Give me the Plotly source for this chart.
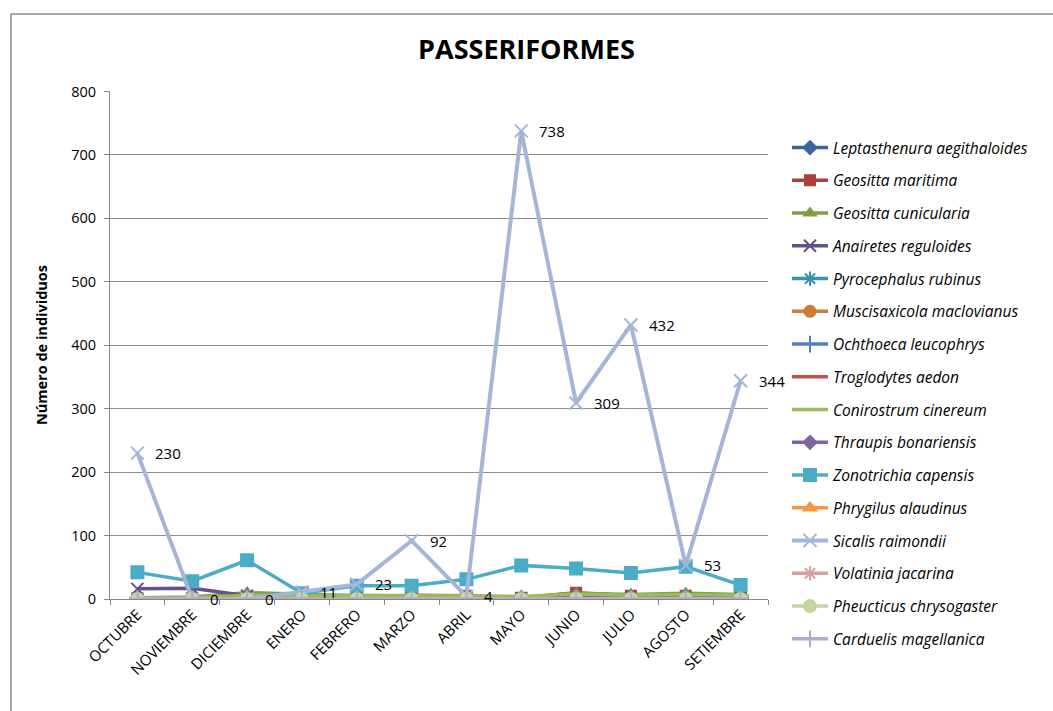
import plotly.graph_objects as go

months = ["OCTUBRE", "NOVIEMBRE", "DICIEMBRE", "ENERO", "FEBRERO", "MARZO",
          "ABRIL", "MAYO", "JUNIO", "JULIO", "AGOSTO", "SETIEMBRE"]

species = [
    "Leptasthenura aegithaloides", "Geositta maritima", "Geositta cunicularia",
    "Anairetes reguloides", "Pyrocephalus rubinus", "Muscisaxicola maclovianus",
    "Ochthoeca leucophrys", "Troglodytes aedon", "Conirostrum cinereum",
    "Thraupis bonariensis", "Zonotrichia capensis", "Phrygilus alaudinus",
    "Sicalis raimondii", "Volatinia jacarina", "Pheucticus chrysogaster",
    "Carduelis magellanica",
]

leptasthenura = [2, 1, 1, 1, 2, 2, 3, 1, 1, 2, 2, 1]
geositta_maritima = [1, 1, 1, 1, 2, 6, 5, 2, 10, 5, 5, 6]
geositta_cunicularia = [2, 3, 10, 7, 5, 3, 3, 2, 9, 7, 9, 7]
anairetes = [16, 17, 5, 2, 1, 1, 1, 1, 1, 1, 1, 1]
pyrocephalus = [1, 1, 2, 1, 1, 1, 2, 1, 1, 2, 2, 1]
muscisaxicola = [0, 0, 0, 0, 0, 0, 0, 0, 0, 0, 0, 0]
ochthoeca = [1, 1, 5, 2, 3, 4, 4, 1, 2, 3, 4, 2]
troglodytes = [1, 1, 1, 1, 1, 2, 1, 1, 2, 1, 2, 1]
conirostrum = [2, 2, 6, 5, 6, 5, 4, 4, 8, 6, 7, 6]
thraupis = [0, 0, 1, 0, 0, 1, 0, 0, 1, 0, 1, 0]
zonotrichia = [42, 28, 61, 9, 21, 21, 31, 53, 48, 41, 51, 22]
phrygilus = [0, 0, 0, 0, 0, 0, 0, 0, 0, 0, 0, 0]
sicalis = [230, 0, 0, 11, 23, 92, 4, 738, 309, 432, 53, 344]
volatinia = [0, 0, 0, 0, 0, 0, 0, 0, 0, 0, 0, 0]
pheucticus = [0, 0, 0, 0, 0, 0, 0, 0, 0, 0, 0, 0]
carduelis = [0, 0, 0, 0, 0, 0, 0, 0, 0, 0, 0, 0]

series = [leptasthenura, geositta_maritima, geositta_cunicularia, anairetes,
          pyrocephalus, muscisaxicola, ochthoeca, troglodytes, conirostrum,
          thraupis, zonotrichia, phrygilus, sicalis, volatinia, pheucticus,
          carduelis]

colors = ["#3A65A0", "#A9403C", "#7E9D47", "#65508A", "#3A93A8", "#D07A36",
          "#4F81BD", "#C0504D", "#9BBB59", "#8064A2", "#4BACC6", "#F79646",
          "#A4B6D8", "#D9A09E", "#C3D6A0", "#B6A8CC"]

symbols = ["diamond", "square", "triangle-up", "x-thin-open", "asterisk-open",
           "circle", "cross-thin-open", "line-ew-open", "line-ew-open",
           "diamond", "square", "triangle-up", "x-thin-open", "asterisk-open",
           "circle", "cross-thin-open"]

sizes = [10, 10, 10, 12, 12, 11, 12, 12, 12, 10, 12, 11, 13, 12, 12, 12]

FONT = "Open Sans"

fig = go.Figure()
for i, (name, vals) in enumerate(zip(species, series)):
    width = 4 if name == "Sicalis raimondii" else 3.5
    fig.add_trace(go.Scatter(
        x=months, y=vals, mode="lines+markers", name=f"<i>{name}</i>",
        legendgroup=f"g{i}",
        line=dict(color=colors[i], width=width),
        marker=dict(symbol=symbols[i], size=sizes[i], color=colors[i],
                    line=dict(color=colors[i], width=2)),
    ))

# value labels for Sicalis raimondii
for m, v in zip(months, sicalis):
    fig.add_annotation(x=m, y=v, text=str(v), showarrow=False,
                       xanchor="left", yanchor="middle", xshift=16,
                       font=dict(size=15, color="#000000", family=FONT))

L, R, T, B = 110, 285, 91, 112
W, H = 1053, 711
pw, ph = W - L - R, H - T - B

# chart-area frame
fig.add_shape(type="rect", xref="paper", yref="paper",
              x0=(11 - L) / pw, x1=(W + 5 - L) / pw,
              y0=-(H + 5 - T - ph) / ph, y1=(H - B - 14) / ph,
              line=dict(color="#8C8C8C", width=1.5), layer="below")

fig.update_layout(
    width=W, height=H,
    margin=dict(l=L, r=R, t=T, b=B),
    paper_bgcolor="white", plot_bgcolor="white",
    font=dict(family=FONT, color="#000000"),
    title=dict(text="<b>PASSERIFORMES</b>", x=0.5, xref="container",
               xanchor="center", y=1 - 50 / H, yref="container",
               yanchor="middle", font=dict(size=27, family=FONT)),
    showlegend=True,
    legend=dict(x=(787 - L) / pw, xanchor="left", y=(H - B - 131) / ph,
                yanchor="top", font=dict(size=15.5, family=FONT),
                tracegroupgap=9.6, itemwidth=36, maxheight=700,
                bgcolor="rgba(0,0,0,0)"),
    xaxis=dict(showgrid=False, showline=True, linecolor="#868686",
               linewidth=1, ticks="outside", tickcolor="#868686",
               ticklen=5, tickangle=-45, tickfont=dict(size=15),
               tickson="boundaries", range=[-0.5, 11.5]),
    yaxis=dict(range=[0, 800.8], dtick=100, showgrid=True,
               gridcolor="#8C8C8C", gridwidth=1, showline=True,
               linecolor="#868686", linewidth=1, ticks="outside",
               tickcolor="#868686", ticklen=5, ticklabelstandoff=5,
               tickfont=dict(size=14.5), zeroline=False,
               title=dict(text="<b>Número de individuos</b>",
                          font=dict(size=14.5), standoff=20)),
)

fig.write_html("out.html")
